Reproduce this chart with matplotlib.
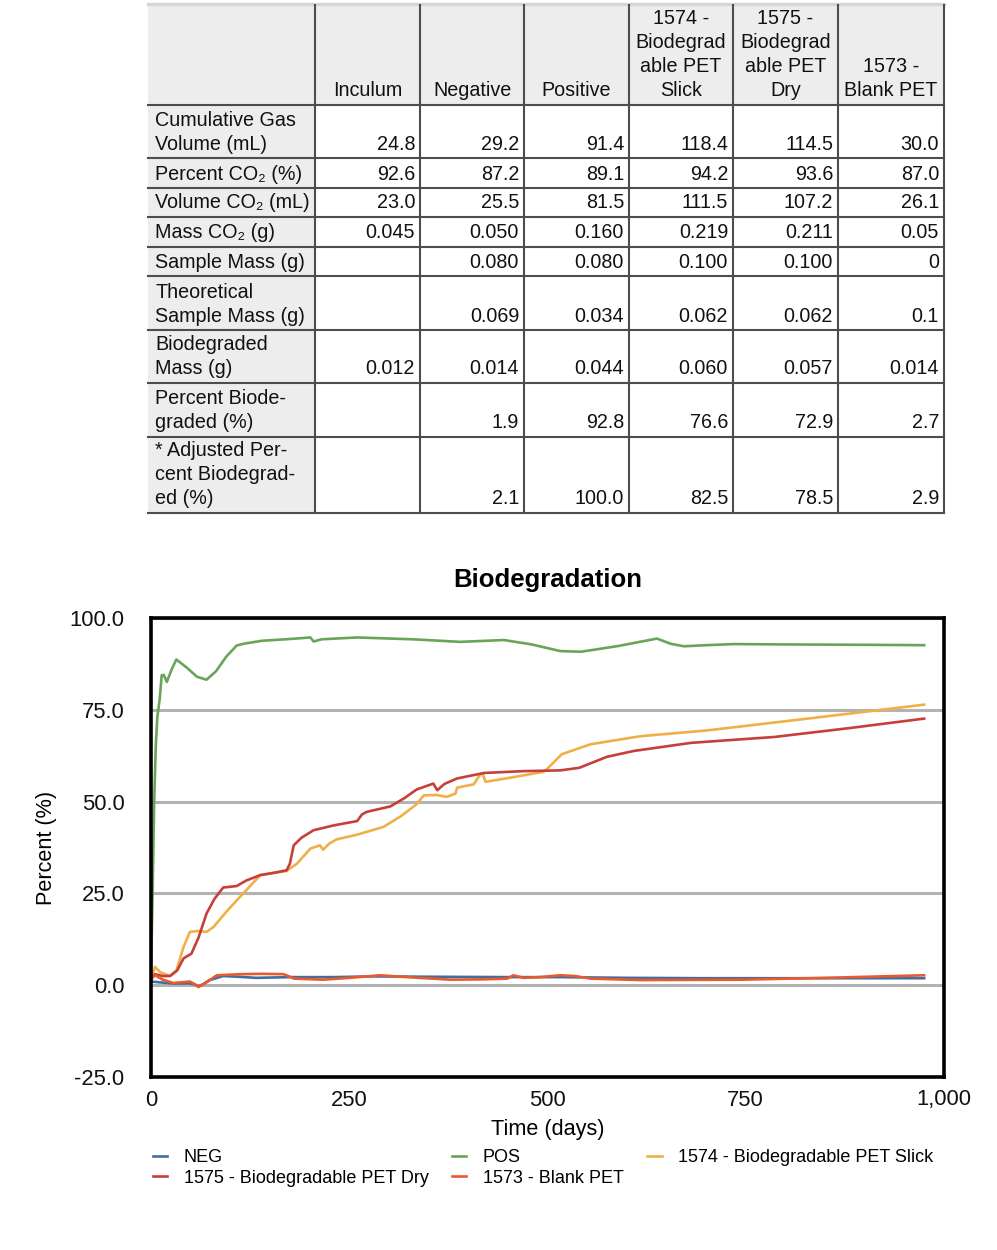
import matplotlib
matplotlib.use("Agg")
import matplotlib.pyplot as plt
from matplotlib.patches import Rectangle

plt.rcParams['font.family'] = ['Liberation Sans', 'DejaVu Sans']

# ---------------- table data ----------------
col_headers = ["Inculum", "Negative", "Positive",
               "1574 -\nBiodegrad\nable PET\nSlick",
               "1575 -\nBiodegrad\nable PET\nDry",
               "1573 -\nBlank PET"]
row_labels = ["Cumulative Gas\nVolume (mL)",
              "Percent CO\u2082 (%)",
              "Volume CO\u2082 (mL)",
              "Mass CO\u2082 (g)",
              "Sample Mass (g)",
              "Theoretical\nSample Mass (g)",
              "Biodegraded\nMass (g)",
              "Percent Biode-\ngraded (%)",
              "* Adjusted Per-\ncent Biodegrad-\ned (%)"]
cells = [
    ["24.8", "29.2", "91.4", "118.4", "114.5", "30.0"],
    ["92.6", "87.2", "89.1", "94.2", "93.6", "87.0"],
    ["23.0", "25.5", "81.5", "111.5", "107.2", "26.1"],
    ["0.045", "0.050", "0.160", "0.219", "0.211", "0.05"],
    ["", "0.080", "0.080", "0.100", "0.100", "0"],
    ["", "0.069", "0.034", "0.062", "0.062", "0.1"],
    ["0.012", "0.014", "0.044", "0.060", "0.057", "0.014"],
    ["", "1.9", "92.8", "76.6", "72.9", "2.7"],
    ["", "2.1", "100.0", "82.5", "78.5", "2.9"],
]

# ---------------- chart data (days, percent) ----------------
neg_days = [0, 10, 28, 49, 55, 60, 66, 74, 91, 110, 133, 175, 230, 281, 350,
            450, 516, 600, 700, 800, 975]
neg_pct = [1.0, 0.8, 0.45, 0.5, 0.2, -0.3, 0.3, 1.4, 2.5, 2.3, 2.0, 2.2, 2.2,
           2.4, 2.3, 2.2, 2.2, 2.0, 1.9, 1.9, 1.9]

pos_days = [0, 2, 4, 6, 8, 11, 13.5, 16, 20, 26, 32, 45, 58, 70, 82, 95, 108,
            117, 140, 170, 201, 205, 215, 260, 330, 390, 445, 480, 516, 542,
            590, 638, 655, 672, 700, 735, 800, 900, 975]
pos_pct = [3, 25, 50, 65, 73, 78, 84.4, 84.5, 82.6, 86, 88.7, 86.5, 84.0, 83.2,
           85.5, 89.5, 92.5, 93.0, 93.8, 94.2, 94.7, 93.6, 94.2, 94.7, 94.2,
           93.5, 94.0, 92.8, 91.0, 90.8, 92.4, 94.4, 93.0, 92.3, 92.6, 92.9,
           92.8, 92.7, 92.6]

slick_days = [0, 5, 12, 24, 32, 41, 49, 60, 70, 79, 95, 112, 125, 138, 155,
              171, 184, 201, 213, 217, 225, 234, 260, 293, 315, 335, 344, 360,
              373, 384, 386, 407, 415, 418, 422, 450, 495, 500, 518, 554, 617,
              702, 828, 975]
slick_pct = [1.5, 5.0, 3.5, 2.5, 4.0, 10.4, 14.5, 14.8, 14.5, 15.9, 20, 24.0,
             27, 30.0, 30.6, 31.1, 33.1, 37.2, 38.1, 36.9, 38.6, 39.7, 41.0,
             43.1, 46, 49.3, 51.7, 51.8, 51.3, 52.2, 53.8, 54.7, 57.4, 57.6,
             55.4, 56.4, 58.1, 59.0, 62.9, 65.6, 67.8, 69.4, 72.6, 76.4]

dry_days = [0, 5, 15, 24, 33, 41, 51, 60, 70, 80, 91, 108, 120, 138, 155, 171,
            175, 180, 190, 205, 230, 260, 266, 272, 302, 320, 335, 356, 361,
            370, 386, 420, 470, 516, 540, 575, 609, 681, 786, 880, 975]
dry_pct = [1.5, 3.0, 2.5, 2.5, 4.0, 7.3, 8.6, 13, 19.5, 23.5, 26.6, 27.0,
           28.5, 30.0, 30.6, 31.3, 33, 38.1, 40.2, 42.2, 43.5, 44.7, 46.5,
           47.2, 48.7, 51, 53.3, 54.9, 53.1, 54.8, 56.3, 57.8, 58.3, 58.5,
           59.2, 62.2, 63.8, 66.0, 67.6, 70, 72.6]

blank_days = [0, 5, 15, 28, 49, 55, 60, 70, 83, 112, 140, 167, 172, 180, 217,
              250, 289, 323, 378, 420, 449, 457, 470, 490, 516, 535, 554, 617,
              744, 850, 975]
blank_pct = [2.0, 2.7, 1.5, 0.6, 1.0, 0.3, -0.5, 0.8, 2.7, 3.0, 3.1, 3.0, 2.6,
             1.8, 1.5, 2.0, 2.7, 2.2, 1.5, 1.6, 1.8, 2.7, 2.0, 2.2, 2.7, 2.5,
             1.8, 1.4, 1.5, 2.0, 2.7]

y_ticks = [-25, 0, 25, 50, 75, 100]
y_tick_labels = ["-25.0", "0.0", "25.0", "50.0", "75.0", "100.0"]
x_ticks = [0, 250, 500, 750, 1000]
x_tick_labels = ["0", "250", "500", "750", "1,000"]

W, H = 997, 1250
fig = plt.figure(figsize=(W / 100, H / 100), dpi=100)

# ---------------- table (drawn in pixel coordinates) ----------------
tab = fig.add_axes([0, 0, 1, 1])
tab.set_xlim(0, W)
tab.set_ylim(H, 0)
tab.axis("off")

col_edges = [148, 315, 420, 524, 629, 733, 838, 944]
row_edges = [5, 105, 158, 188, 217, 247, 276, 330, 383, 437, 513]
gray = "#ededed"
line_c = "#4d4d4d"
fs_tab = 14.2
lh = 24  # line height px

tab.add_patch(Rectangle((col_edges[0], row_edges[0]),
                        col_edges[-1] - col_edges[0], row_edges[1] - row_edges[0],
                        color=gray, lw=0))
tab.add_patch(Rectangle((col_edges[0], row_edges[1]),
                        col_edges[1] - col_edges[0], row_edges[-1] - row_edges[1],
                        color=gray, lw=0))
tab.plot([col_edges[0], col_edges[-1]], [4, 4], color="#d6d6d6", lw=2.5)
for y in row_edges[1:]:
    tab.plot([col_edges[0], col_edges[-1]], [y, y], color=line_c, lw=1.5)
for x in col_edges[1:]:
    tab.plot([x, x], [row_edges[0], row_edges[-1]], color=line_c, lw=1.5)


def cell_text(x, bottom, text, ha):
    lines = text.split("\n")
    n = len(lines)
    for i, s in enumerate(lines):
        y = bottom - 14 - lh * (n - 1 - i)
        tab.text(x, y, s, ha=ha, va="center", fontsize=fs_tab, color="#111111")


for j, h in enumerate(col_headers):
    cx = (col_edges[j + 1] + col_edges[j + 2]) / 2
    cell_text(cx, row_edges[1], h, "center")
for i, lab in enumerate(row_labels):
    bottom = row_edges[i + 2]
    cell_text(col_edges[0] + 7, bottom, lab, "left")
    for j, v in enumerate(cells[i]):
        if v:
            cell_text(col_edges[j + 2] - 5, bottom, v, "right")

# ---------------- chart ----------------
ax = fig.add_axes([151 / W, (H - 1077) / H, 793 / W, 459 / H])
series = [
    ("NEG", neg_days, neg_pct, "#3f6e9f"),
    ("POS", pos_days, pos_pct, "#6aa45a"),
    ("1574 - Biodegradable PET Slick", slick_days, slick_pct, "#f0b048"),
    ("1575 - Biodegradable PET Dry", dry_days, dry_pct, "#c63f3a"),
    ("1573 - Blank PET", blank_days, blank_pct, "#e95a2e"),
]
handles = {}
for name, xs, ys, c in series:
    ln, = ax.plot(xs, ys, color=c, lw=1.9, label=name, solid_joinstyle="round")
    handles[name] = ln

ax.set_xlim(0, 1000)
ax.set_ylim(-25, 100)
ax.set_yticks(y_ticks)
ax.set_yticklabels(y_tick_labels)
ax.set_xticks(x_ticks)
ax.set_xticklabels(x_tick_labels)
ax.tick_params(axis="both", length=0, labelsize=15.8, colors="#111111")
ax.tick_params(axis="y", pad=19)
ax.tick_params(axis="x", pad=9)
ax.yaxis.grid(True, color="#b3b3b3", lw=2.2)
ax.set_axisbelow(True)
for sp in ax.spines.values():
    sp.set_linewidth(2.6)
    sp.set_color("black")
ax.set_title("Biodegradation", fontsize=18.5, fontweight="bold", pad=22)
ax.set_xlabel("Time (days)", fontsize=15.6, labelpad=6)
ax.set_ylabel("Percent (%)", fontsize=15.6, labelpad=9)

order = ["NEG", "1575 - Biodegradable PET Dry", "POS", "1573 - Blank PET",
         "1574 - Biodegradable PET Slick"]
fig.legend([handles[k] for k in order], order, loc="upper left",
           bbox_to_anchor=(153 / W, 1 - 1149 / H), ncol=3, frameon=False,
           fontsize=13, handlelength=0.8, handletextpad=0.9,
           columnspacing=1.3, labelspacing=0.2, borderpad=0, borderaxespad=0)

fig.savefig("out.png", dpi=100)
